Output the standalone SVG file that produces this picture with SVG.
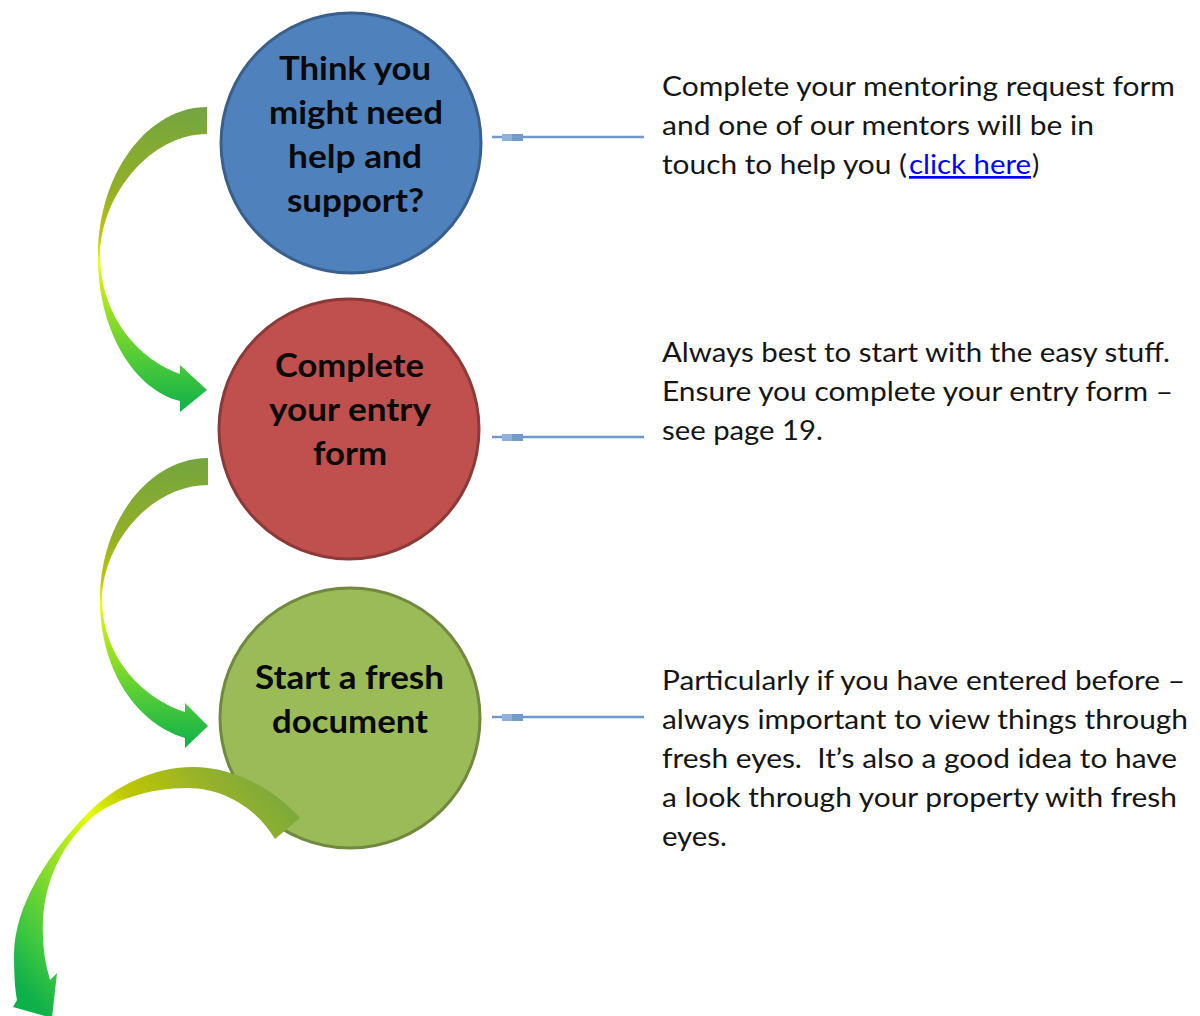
<svg xmlns="http://www.w3.org/2000/svg" width="1200" height="1016" viewBox="0 0 1200 1016">
<style>
.ct{font-family:Lato,"Open Sans","Liberation Sans",sans-serif;font-weight:700;font-size:32px;fill:#0a0a0a}
.rt{font-family:Lato,"Open Sans","Liberation Sans",sans-serif;font-size:27px;fill:#151515}
.lk{fill:#0000ff;text-decoration:underline}
.cl{stroke:#6f98cd;stroke-width:2.6;fill:none}
</style>
<defs>
<linearGradient id="gv" x1="0" y1="0" x2="0" y2="1">
<stop offset="0" stop-color="#74a53f"/>
<stop offset="0.28" stop-color="#94b026"/>
<stop offset="0.43" stop-color="#c2c800"/>
<stop offset="0.5" stop-color="#ecff00"/>
<stop offset="0.64" stop-color="#a6e41e"/>
<stop offset="0.82" stop-color="#52cc38"/>
<stop offset="1" stop-color="#0eb04a"/>
</linearGradient>
<linearGradient id="g3" gradientUnits="userSpaceOnUse" x1="300" y1="790" x2="40" y2="1010">
<stop offset="0" stop-color="#72a642"/>
<stop offset="0.2" stop-color="#98b22a"/>
<stop offset="0.4" stop-color="#c0c800"/>
<stop offset="0.52" stop-color="#e4ff00"/>
<stop offset="0.68" stop-color="#98e026"/>
<stop offset="0.88" stop-color="#40c840"/>
<stop offset="1" stop-color="#0eb04a"/>
</linearGradient>
</defs>
<rect width="1200" height="1016" fill="#ffffff"/>

<g id="connectors">
<path d="M207,107 C150,107 98,170 98,257 C98,332 135,390 180,401 L180,412 L207,390 L180,365 L180,374 C140,360 101,318 100,257 C100,196 150,134 207,134 Z" fill="url(#gv)"/>
<path d="M208,458 C150,458 100,520 100,600 C100,672 138,724 185,738 L185,748 L208,726 L185,703 L185,712 C145,699 103,660 102,600 C102,545 150,485 208,485 Z" fill="url(#gv)"/>
<line class="cl" x1="492" y1="137" x2="644" y2="137"/>
<rect x="502" y="134" width="10" height="7" fill="#8eb0da"/>
<rect x="512" y="134" width="11" height="7" fill="#7099cc"/>
<line class="cl" x1="492" y1="437" x2="644" y2="437"/>
<rect x="502" y="434" width="10" height="7" fill="#8eb0da"/>
<rect x="512" y="434" width="11" height="7" fill="#7099cc"/>
<line class="cl" x1="492" y1="717" x2="644" y2="717"/>
<rect x="502" y="714" width="10" height="7" fill="#8eb0da"/>
<rect x="512" y="714" width="11" height="7" fill="#7099cc"/>
</g>

<g id="node1">
<circle cx="351" cy="143" r="130" fill="#4f81bd" stroke="#3a5f8c" stroke-width="3"/>
<text class="ct" x="279" y="80" textLength="152" lengthAdjust="spacingAndGlyphs">Think you</text>
<text class="ct" x="269" y="124" textLength="174" lengthAdjust="spacingAndGlyphs">might need</text>
<text class="ct" x="288" y="168" textLength="134" lengthAdjust="spacingAndGlyphs">help and</text>
<text class="ct" x="287" y="212" textLength="137" lengthAdjust="spacingAndGlyphs">support?</text>
</g>

<g id="node2">
<circle cx="349" cy="429" r="130" fill="#c0504d" stroke="#8c3a37" stroke-width="3"/>
<text class="ct" x="275" y="377" textLength="149" lengthAdjust="spacingAndGlyphs">Complete</text>
<text class="ct" x="269" y="421" textLength="162" lengthAdjust="spacingAndGlyphs">your entry</text>
<text class="ct" x="313" y="465" textLength="74" lengthAdjust="spacingAndGlyphs">form</text>
</g>

<g id="node3">
<circle cx="350" cy="718" r="130" fill="#9bbb59" stroke="#71893f" stroke-width="3"/>
<text class="ct" x="255" y="689" textLength="189" lengthAdjust="spacingAndGlyphs">Start a fresh</text>
<text class="ct" x="272" y="733" textLength="156" lengthAdjust="spacingAndGlyphs">document</text>
</g>

<g id="arrow3">
<path d="M300,818 C275,790 235,767 193,767 C155,767 115,785 87,814 C50,852 14,905 14,955 C14,975 15,990 17,1000 L13,1007 L52,1018 L57,973 L50,980 C44,960 42,940 43,920 C45,880 62,845 90,819 C112,800 150,788 187,788 C225,788 258,810 275,839 Z" fill="url(#g3)"/>
</g>

<g id="text1">
<text class="rt" x="662" y="96" textLength="513" lengthAdjust="spacingAndGlyphs">Complete your mentoring request form</text>
<text class="rt" x="662" y="135" textLength="432" lengthAdjust="spacingAndGlyphs">and one of our mentors will be in</text>
<text class="rt" x="662" y="174" textLength="245" lengthAdjust="spacingAndGlyphs">touch to help you (</text>
<text class="rt lk" x="909" y="174" textLength="122" lengthAdjust="spacingAndGlyphs">click here</text>
<text class="rt" x="1032" y="174">)</text>
</g>

<g id="text2">
<text class="rt" x="662" y="362" textLength="508" lengthAdjust="spacingAndGlyphs">Always best to start with the easy stuff.</text>
<text class="rt" x="662" y="401" textLength="511" lengthAdjust="spacingAndGlyphs">Ensure you complete your entry form –</text>
<text class="rt" x="662" y="440" textLength="161" lengthAdjust="spacingAndGlyphs">see page 19.</text>
</g>

<g id="text3">
<text class="rt" x="662" y="690" textLength="523" lengthAdjust="spacingAndGlyphs">Particularly if you have entered before –</text>
<text class="rt" x="662" y="729" textLength="526" lengthAdjust="spacingAndGlyphs">always important to view things through</text>
<text class="rt" x="662" y="768" textLength="515" lengthAdjust="spacingAndGlyphs" xml:space="preserve" style="white-space:pre">fresh eyes.  It’s also a good idea to have</text>
<text class="rt" x="662" y="807" textLength="515" lengthAdjust="spacingAndGlyphs">a look through your property with fresh</text>
<text class="rt" x="662" y="846" textLength="65" lengthAdjust="spacingAndGlyphs">eyes.</text>
</g>
</svg>
